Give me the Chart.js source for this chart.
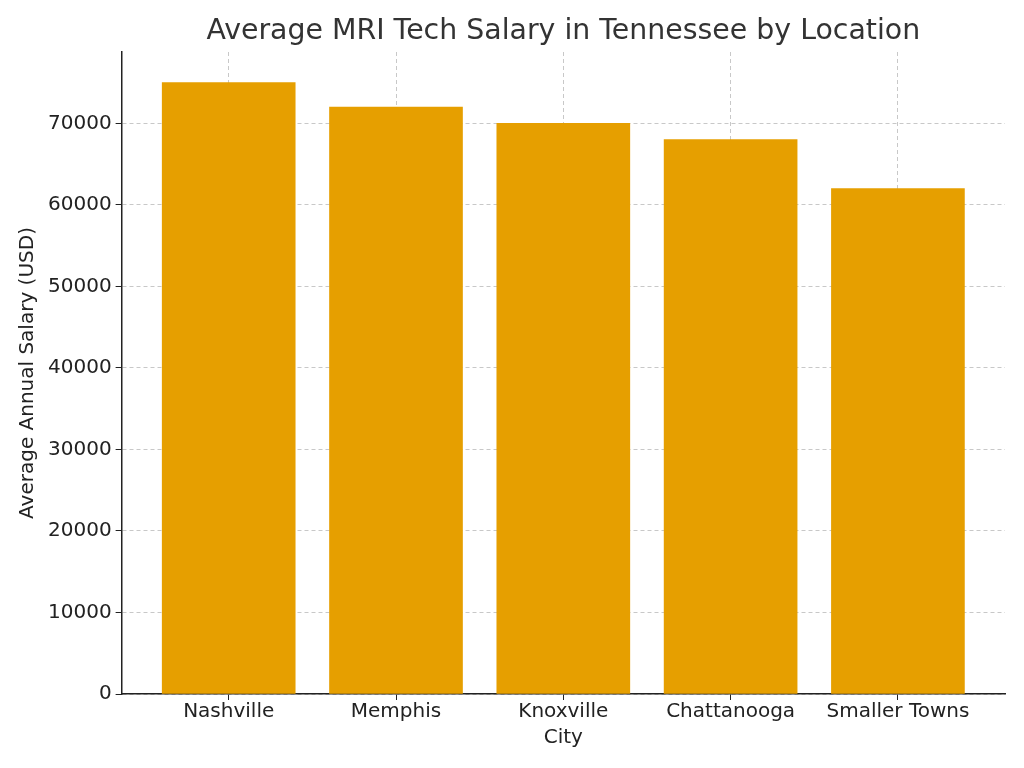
<!DOCTYPE html>
<html><head><meta charset="utf-8">
<script src="https://cdn.jsdelivr.net/npm/chart.js@4"></script>
<style>html,body{margin:0;background:#fff}#w{width:1024px;height:768px}</style>
</head><body><div id="w"><canvas id="c"></canvas></div>
<script>
const categories = ["Nashville","Memphis","Knoxville","Chattanooga","Smaller Towns"];
const salaries = [75000,72000,70000,68000,62000];
const yTicks = [0,10000,20000,30000,40000,50000,60000,70000];
const titleText = 'Average MRI Tech Salary in Tennessee by Location';
const F = "'DejaVu Sans', sans-serif";
const gridStyle = {color:'rgba(176,176,176,0.7)', lineWidth:1, offset:false, drawTicks:true, tickLength:6, tickColor:'#222'};
const titlePlugin = {id:'ptitle', afterDraw(chart){
  const {ctx, chartArea:a} = chart; ctx.save();
  ctx.font = "28.4px "+F; ctx.fillStyle='#333'; ctx.textAlign='center'; ctx.textBaseline='middle';
  ctx.fillText(titleText,(a.left+a.right)/2,32); ctx.restore();}};
new Chart(document.getElementById('c'), {
  type:'bar',
  data:{datasets:[{data:salaries.map((v,i)=>({x:i,y:v})), backgroundColor:'#E69F00', barThickness:133}]},
  plugins:[titlePlugin],
  options:{
    responsive:true, maintainAspectRatio:false, animation:false,
    layout:{padding:{left:12,right:19,top:52,bottom:14}},
    plugins:{legend:{display:false}, tooltip:{enabled:false}, title:{display:false}},
    scales:{
      x:{type:'linear',min:-0.64,max:4.64,offset:false,z:1,
        afterBuildTicks:s=>{s.ticks=categories.map((_,i)=>({value:i}));},
        ticks:{callback:v=>categories[v],color:'#222',font:{family:F,size:20},maxRotation:0,autoSkip:false,padding:0},
        grid:gridStyle, border:{display:true,color:'#222',width:1.5,dash:[4,3]},
        title:{display:true,text:'City',color:'#222',font:{family:F,size:20},padding:{top:2}}},
      y:{min:0,max:78750,z:1,
        afterBuildTicks:s=>{s.ticks=yTicks.map(v=>({value:v}));},
        ticks:{callback:v=>String(v),color:'#222',font:{family:F,size:20},padding:4},
        grid:gridStyle, border:{display:true,color:'#222',width:1.5,dash:[4,3]},
        title:{display:true,text:'Average Annual Salary (USD)',color:'#222',font:{family:F,size:20},padding:{bottom:4}}}
    }
  }
});
</script></body></html>
